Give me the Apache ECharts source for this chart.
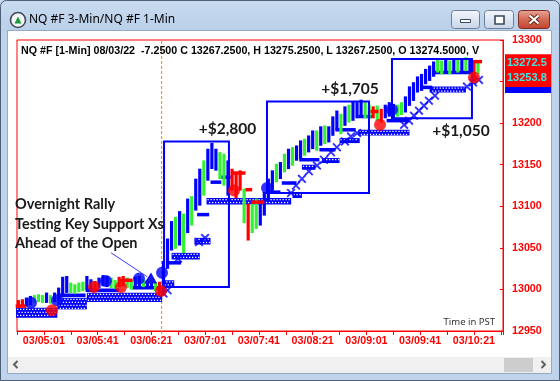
<!DOCTYPE html>
<html>
<head>
<meta charset="utf-8">
<script src="https://cdn.jsdelivr.net/npm/echarts@6.0.0/dist/echarts.min.js"></script>
<style>
html,body{margin:0;padding:0;background:#fff;overflow:hidden;}
#chart{width:560px;height:381px;}
</style>
</head>
<body>
<div id="chart"></div>
<script>
// ---------------- data (time = minutes after midnight - 1, price in points) ----------------
const xTickValues = [300, 340, 380, 420, 460, 500, 540, 580, 620];
const xTickLabels = ['03/05:01', '03/05:41', '03/06:21', '03/07:01', '03/07:41', '03/08:21', '03/09:01', '03/09:41', '03/10:21'];
const yTickValues = [12950, 13000, 13050, 13100, 13150, 13200, 13250, 13300];

const barStart = 281, barStep = 3;
const barHigh = [
  12986,12987,12989,12991,12992,12993,12992,12995,12992,12995,
  13001,13014,13015,13007,13005,13007,13008,13015,13011,13009,
  13013,13016,13015,13013,13010,13014,13015,13013,13010,13014,
  13015,13011,13010,13009,13008,13008,13033,13060,13081,13086,
  13093,13090,13108,13111,13132,13144,13154,13168,13175,13168,
  13164,13162,13154,13144,13138,13142,13120,13102,13102,13108,
  13102,13116,13132,13142,13150,13152,13162,13168,13170,13172,
  13178,13180,13184,13190,13190,13195,13196,13195,13207,13214,
  13210,13219,13221,13225,13224,13227,13224,13221,13219,13220,
  13216,13221,13224,13222,13221,13224,13231,13243,13248,13255,
  13258,13264,13268,13273,13276,13274,13276,13274,13276,13276,
  13276,13278,13276,13274,13273
];
const barLow = [
  12979,12980,12981,12982,12985,12986,12985,12985,12984,12986,
  12989,12992,12997,12997,12996,12998,12999,13001,13001,12999,
  13003,13005,13004,13003,13002,13004,13005,13003,13001,13004,
  13005,13004,13003,13002,12999,12996,12997,13026,13048,13050,
  13054,13045,13069,13078,13096,13102,13114,13132,13146,13144,
  13134,13126,13114,13120,13111,13120,13081,13060,13069,13074,
  13078,13090,13108,13120,13130,13134,13142,13146,13150,13156,
  13158,13162,13166,13170,13168,13174,13176,13178,13186,13192,
  13188,13198,13202,13204,13207,13210,13207,13207,13207,13204,
  13202,13207,13209,13207,13209,13211,13214,13222,13228,13238,
  13240,13248,13252,13257,13262,13260,13262,13260,13263,13262,
  13264,13264,13262,13252,13260
];
// paint-bar state per bar: b = blue, g = green, r = red
const barState = 'rrbbgggbgb' + 'bbbggggbbr' + 'bbbggrrggb' + 'bgbbgrbbbg' + 'bgbgbbgbbb' +
                 'ggbrrrgrgg' + 'bbbbgbgbgb' + 'bgbbgbgbbb' + 'gbgbbbggrg' + 'rbbbggbbbb' +
                 'bbbbggbgbg' + 'bgbrg';

// support "X" bands: [start, end, top price, bottom price]
const supportBands = [
  [279.3, 310, 12978, 12966], [310, 332, 12990, 12976], [332, 388, 12996, 12985],
  [388, 397, 13011, 13003], [395, 416, 13044, 13036], [412, 424, 13062, 13054],
  [421, 484, 13110, 13102], [485, 492, 13116, 13110], [492, 502, 13150, 13144],
  [507, 520, 13158, 13152], [520, 535, 13182, 13176], [534, 572, 13192, 13185],
  [587, 614, 13244, 13237]
];
// single X markers
const xMarkTime  = [389, 392, 399.8, 415.4, 419.9, 483.9, 487.6, 492, 497.2, 503.2, 508.4, 513.6, 518, 524, 528.5, 533,
                    568, 571.7, 575.4, 579.1, 582.8, 586.5, 591, 614.8, 619.3, 623.7];
const xMarkPrice = [12995, 12999, 13037, 13057, 13062, 13116, 13125, 13133, 13142, 13149, 13156, 13165, 13171, 13178, 13184, 13188,
                    13198, 13203, 13209, 13215, 13221, 13227, 13233, 13244, 13249, 13252];
// blue step line segments: [start, end, price]
const blueSteps = [
  [311, 331, 12993], [331, 356, 12999], [366, 386, 13002], [393, 402, 13032], [414, 423, 13090],
  [424, 432, 13129], [432, 439, 13135], [466, 476, 13117], [477, 488, 13128], [490, 505, 13156],
  [505, 517, 13168], [517, 532, 13192], [534, 544, 13208], [555, 572, 13203], [581, 589, 13243],
  [589, 619, 13261]
];
// red dashes: [start, end, price]
const redDashes = [
  [279, 287, 12980], [356, 366, 13011], [440, 450, 13140], [450, 455, 13120],
  [454, 464, 13105], [543, 549, 13214], [618, 626, 13274]
];
const blueDotTime  = [290.4, 309.8, 346.2, 370.8, 387.9, 466, 559];
const blueDotPrice = [12984, 12987, 13010, 13013, 13020, 13122, 13216];
const redDotTime   = [306, 337.3, 357.4, 387.1, 441.5, 550.1, 620];
const redDotPrice  = [12975, 13003, 13003, 12998, 13119, 13198, 13255];

// trade boxes: [start, end, top, bottom]
const tradeBoxes = [[389.4, 437.7, 13178, 13003], [466, 541.9, 13226, 13116], [559, 618.5, 13277, 13206]];
const profitTime  = [436.6, 527.8, 610.3];
const profitPrice = [13193, 13241, 13190];
const profitText  = ['+$2,800', '+$1,705', '+$1,050'];

const arrowFrom = [350, 13044];
const arrowTo   = [379, 13013];
const openTime  = 387.3;

const redTagValues  = [13272.5, 13253.8];
const blueTagValues = [13246.4];

const headerText = 'NQ #F [1-Min] 08/03/22  -7.2500 C 13267.2500, H 13275.2500, L 13267.2500, O 13274.5000, V';
const captionLines = ['Overnight Rally', 'Testing Key Support Xs', 'Ahead of the Open'];

// ---------------- rendering ----------------
const BLUE = '#0000ff', GREEN = '#33f033', RED = '#ff0000', ORANGE = '#ff9a00';
const STATE_COLOR = { b: BLUE, g: GREEN, r: RED };
const FRAME = '#bfd4ec';
const X_PATH = 'path://M0,1.5L1.5,0L5,3.5L8.5,0L10,1.5L6.5,5L10,8.5L8.5,10L5,6.5L1.5,10L0,8.5L3.5,5Z';

const barData = barHigh.map((h, i) => [barStart + i * barStep, barLow[i], h]);

function renderBar(params, api) {
  const t = api.value(0);
  const lo = api.coord([t, api.value(1)]);
  const hi = api.coord([t, api.value(2)]);
  return { type: 'line', shape: { x1: lo[0], y1: lo[1] + 1, x2: hi[0], y2: hi[1] - 1 },
           style: { stroke: STATE_COLOR[barState[params.dataIndex]], lineWidth: 3.2 } };
}
function renderBand(params, api) {
  const p1 = api.coord([api.value(0), api.value(2)]);
  const p2 = api.coord([api.value(1), api.value(3)]);
  const x = p1[0], y = p1[1], w = p2[0] - p1[0], h = p2[1] - p1[1];
  const children = [{ type: 'rect', shape: { x, y, width: w, height: h }, style: { fill: BLUE } }];
  let row = 0;
  for (let yy = y + 1.6; yy < y + h - 0.8; yy += 3, row++) {
    for (let xx = x + 1.6 + (row % 2) * 1.5; xx < x + w - 0.8; xx += 3) {
      children.push({ type: 'rect', shape: { x: xx - 0.65, y: yy - 0.65, width: 1.3, height: 1.3 }, style: { fill: '#ffffff' } });
    }
  }
  return { type: 'group', children };
}
function segRenderer(color, width) {
  return function (params, api) {
    const a = api.coord([api.value(0), api.value(2)]);
    const b = api.coord([api.value(1), api.value(2)]);
    return { type: 'line', shape: { x1: a[0], y1: a[1], x2: b[0], y2: b[1] }, style: { stroke: color, lineWidth: width } };
  };
}
function renderBox(params, api) {
  const a = api.coord([api.value(0), api.value(2)]);
  const b = api.coord([api.value(1), api.value(3)]);
  return { type: 'rect', shape: { x: a[0], y: a[1], width: b[0] - a[0], height: b[1] - a[1] },
           style: { fill: 'none', stroke: BLUE, lineWidth: 2 } };
}
function renderProfit(params, api) {
  const p = api.coord([api.value(0), api.value(1)]);
  return { type: 'text', x: p[0], y: p[1],
           style: { text: profitText[params.dataIndex], font: 'bold 15.5px Lato', fill: '#1a1a1a', align: 'center', verticalAlign: 'middle' } };
}
function renderArrow(params, api) {
  const a = api.coord([api.value(0), api.value(1)]);
  const b = api.coord([api.value(2), api.value(3)]);
  return { type: 'group', children: [
    { type: 'line', shape: { x1: a[0], y1: a[1], x2: b[0] - 3, y2: b[1] - 2 }, style: { stroke: '#3a3aff', lineWidth: 1 } },
    { type: 'polygon', shape: { points: [[b[0] + 1, b[1] - 6], [b[0] - 6, b[1] + 5], [b[0] + 7, b[1] + 5]] }, style: { fill: '#1414e6' } }
  ] };
}
function renderOpenLine(params, api) {
  const top = api.coord([api.value(0), yTickValues[yTickValues.length - 1]]);
  const bot = api.coord([api.value(0), yTickValues[0]]);
  const x = Math.round(top[0]);
  return { type: 'rect', shape: { x: x, y: top[1], width: 1, height: bot[1] - top[1] + 3 },
           style: { fill: 'none', stroke: null },
           children: [] ,
           // drawn as a dashed line below
           textContent: null,
           ignore: true };
}
function renderOpenDash(params, api) {
  const top = api.coord([api.value(0), yTickValues[yTickValues.length - 1]]);
  const bot = api.coord([api.value(0), yTickValues[0]]);
  const x = Math.round(top[0]);
  const children = [];
  for (let y = top[1] + 1; y < bot[1] + 3; y += 5) {
    children.push({ type: 'rect', shape: { x: x, y: y, width: 1.2, height: 3 }, style: { fill: ORANGE } });
  }
  return { type: 'group', children };
}
function tagRenderer(fill, withText) {
  return function (params, api) {
    const v = api.value(0);
    const y = api.coord([300, v])[1];
    const x = params.coordSys.x + params.coordSys.width + 2;
    const children = [{ type: 'rect', shape: { x, y: y - 8.5, width: 50, height: 17 }, style: { fill } }];
    if (withText) children.push({ type: 'text', x: x + 2, y: y, style: { text: v.toFixed(1), font: 'bold 11px "Liberation Sans"', fill: '#3ee6e6', verticalAlign: 'middle' } });
    return { type: 'group', children };
  };
}

const chart = echarts.init(document.getElementById('chart'), null, { renderer: 'canvas' });
const labelFont = { color: RED, fontWeight: 'bold', fontSize: 10.7, fontFamily: '"Liberation Sans", Arial' };

const option = {
  animation: false,
  backgroundColor: '#ffffff',
  grid: { left: 17, right: 57, top: 40, bottom: 50, show: true, borderColor: RED, borderWidth: 1, backgroundColor: '#ffffff' },
  xAxis: {
    type: 'value', min: 280, max: 641.6, interval: 20,
    axisLine: { show: true, lineStyle: { color: RED } },
    axisTick: { show: true, length: 4, lineStyle: { color: RED } },
    splitLine: { show: false },
    axisLabel: Object.assign({ margin: 5, showMinLabel: true, showMaxLabel: true,
      formatter: v => { const k = xTickValues.indexOf(Math.round(v)); return k >= 0 ? xTickLabels[k] : ''; } }, labelFont)
  },
  yAxis: {
    type: 'value', position: 'right', min: yTickValues[0], max: yTickValues[yTickValues.length - 1], interval: 50,
    axisLine: { show: true, lineStyle: { color: RED } },
    axisTick: { show: true, inside: true, length: 3, lineStyle: { color: RED } },
    splitLine: { show: false },
    axisLabel: Object.assign({ margin: 9, showMinLabel: true, showMaxLabel: true, formatter: v => String(Math.round(v)) }, labelFont)
  },
  series: [
    { type: 'custom', name: 'openLine', data: [[openTime]], renderItem: renderOpenDash, encode: { x: 0 }, silent: true, clip: false },
    { type: 'custom', name: 'bands', data: supportBands, renderItem: renderBand, encode: { x: [0, 1], y: [2, 3] }, silent: true },
    { type: 'scatter', name: 'xmarks', data: xMarkTime.map((t, i) => [t, xMarkPrice[i]]), symbol: X_PATH, symbolSize: 9,
      itemStyle: { color: BLUE }, silent: true },
    { type: 'custom', name: 'steps', data: blueSteps, renderItem: segRenderer(BLUE, 3.5), encode: { x: [0, 1], y: 2 }, silent: true },
    { type: 'custom', name: 'bars', data: barData, renderItem: renderBar, encode: { x: 0, y: [1, 2] }, silent: true },
    { type: 'custom', name: 'redDashes', data: redDashes, renderItem: segRenderer(RED, 3.5), encode: { x: [0, 1], y: 2 }, silent: true },
    { type: 'scatter', name: 'blueDots', data: blueDotTime.map((t, i) => [t, blueDotPrice[i]]), symbolSize: 12,
      itemStyle: { color: BLUE }, silent: true },
    { type: 'scatter', name: 'redDots', data: redDotTime.map((t, i) => [t, redDotPrice[i]]), symbolSize: 12,
      itemStyle: { color: RED }, silent: true },
    { type: 'custom', name: 'boxes', data: tradeBoxes, renderItem: renderBox, encode: { x: [0, 1], y: [2, 3] }, silent: true },
    { type: 'custom', name: 'arrow', data: [[arrowFrom[0], arrowFrom[1], arrowTo[0], arrowTo[1]]], renderItem: renderArrow,
      encode: { x: [0, 2], y: [1, 3] }, silent: true, clip: false },
    { type: 'custom', name: 'profits', data: profitTime.map((t, i) => [t, profitPrice[i]]), renderItem: renderProfit,
      encode: { x: 0, y: 1 }, silent: true, clip: false },
    { type: 'custom', name: 'blueTags', data: blueTagValues.map(v => [v]), renderItem: tagRenderer(BLUE, false),
      encode: { y: 0 }, silent: true, clip: false, z: 5 },
    { type: 'custom', name: 'redTags', data: redTagValues.map(v => [v]), renderItem: tagRenderer(RED, true),
      encode: { y: 0 }, silent: true, clip: false, z: 6 }
  ],
  graphic: { elements: [
    // window frame
    { type: 'rect', z: 100, shape: { x: 0, y: 0, width: 560, height: 31 },
      style: { fill: new echarts.graphic.LinearGradient(0, 0, 0, 1, [{ offset: 0, color: '#c8dbf0' }, { offset: 1, color: '#bad0e9' }]) } },
    { type: 'rect', z: 100, shape: { x: 0, y: 31, width: 8, height: 350 }, style: { fill: FRAME } },
    { type: 'rect', z: 100, shape: { x: 551, y: 31, width: 9, height: 350 }, style: { fill: FRAME } },
    { type: 'rect', z: 100, shape: { x: 0, y: 373, width: 560, height: 8 }, style: { fill: FRAME } },
    { type: 'rect', z: 100, shape: { x: 8, y: 357, width: 543, height: 16 }, style: { fill: '#f0f0f0' } },
    { type: 'rect', z: 101, shape: { x: 504, y: 358, width: 29, height: 14 }, style: { fill: '#cdcdcd' } },
    { type: 'polyline', z: 101, shape: { points: [[17.5, 361], [14, 364.5], [17.5, 368]] }, style: { stroke: '#606060', lineWidth: 2, fill: null } },
    { type: 'polyline', z: 101, shape: { points: [[541.5, 361], [545, 364.5], [541.5, 368]] }, style: { stroke: '#606060', lineWidth: 2, fill: null } },
    { type: 'rect', z: 101, shape: { x: 7.5, y: 30.5, width: 544, height: 343 }, style: { fill: null, stroke: '#95aac2', lineWidth: 1 } },
    { type: 'rect', z: 101, shape: { x: 0.5, y: 0.5, width: 559, height: 380, r: [6, 6, 0, 0] }, style: { fill: null, stroke: '#4d6078', lineWidth: 1 } },
    // icon + title
    { type: 'circle', z: 101, shape: { cx: 18, cy: 20, r: 7.5 }, style: { fill: '#f2f4f6', stroke: '#3f4b59', lineWidth: 1.6 } },
    { type: 'polygon', z: 102, shape: { points: [[14.5, 23.5], [21.5, 23.5], [18, 16.5]] }, style: { fill: '#1f9a3a' } },
    { type: 'text', z: 101, x: 29, y: 20, style: { text: 'NQ #F 3-Min/NQ #F 1-Min', font: '12px "Noto Sans"', fill: '#000', verticalAlign: 'middle' } },
    // caption buttons
    { type: 'rect', z: 101, shape: { x: 451.5, y: 10.5, width: 28, height: 18, r: 3 },
      style: { fill: new echarts.graphic.LinearGradient(0, 0, 0, 1, [{ offset: 0, color: '#f4f7fb' }, { offset: 1, color: '#c6d5e7' }]), stroke: '#6d7f96', lineWidth: 1 } },
    { type: 'rect', z: 102, shape: { x: 460.5, y: 19.5, width: 10, height: 3 }, style: { fill: '#ffffff', stroke: '#39475a', lineWidth: 1 } },
    { type: 'rect', z: 101, shape: { x: 484.5, y: 10.5, width: 29, height: 18, r: 3 },
      style: { fill: new echarts.graphic.LinearGradient(0, 0, 0, 1, [{ offset: 0, color: '#f4f7fb' }, { offset: 1, color: '#c6d5e7' }]), stroke: '#6d7f96', lineWidth: 1 } },
    { type: 'rect', z: 102, shape: { x: 495, y: 16, width: 9, height: 8 }, style: { fill: '#ffffff', stroke: '#39475a', lineWidth: 1.6 } },
    { type: 'rect', z: 101, shape: { x: 518.5, y: 10.5, width: 31, height: 18, r: 3 },
      style: { fill: new echarts.graphic.LinearGradient(0, 0, 0, 1, [{ offset: 0, color: '#e9a898' }, { offset: 0.5, color: '#d46a55' }, { offset: 1, color: '#c0422c' }]), stroke: '#7d2d22', lineWidth: 1 } },
    { type: 'polyline', z: 102, shape: { points: [[529.5, 15.5], [538.5, 23.5]] }, style: { stroke: '#5a2018', lineWidth: 4 } },
    { type: 'polyline', z: 102, shape: { points: [[538.5, 15.5], [529.5, 23.5]] }, style: { stroke: '#5a2018', lineWidth: 4 } },
    { type: 'polyline', z: 103, shape: { points: [[529.5, 15.5], [538.5, 23.5]] }, style: { stroke: '#ffffff', lineWidth: 2.2 } },
    { type: 'polyline', z: 103, shape: { points: [[538.5, 15.5], [529.5, 23.5]] }, style: { stroke: '#ffffff', lineWidth: 2.2 } },
    // chart texts
    { type: 'text', z: 50, x: 21, y: 51, style: { text: headerText, font: 'bold 10.7px "Liberation Sans"', fill: '#000', verticalAlign: 'middle' } },
    { type: 'text', z: 50, x: 495, y: 322, style: { text: 'Time in PST', font: '9.5px "Noto Sans"', fill: '#333', align: 'right', verticalAlign: 'middle' } },
    { type: 'text', z: 50, x: 15, y: 204, style: { text: captionLines[0], font: 'bold 14.5px Lato', fill: '#1a1a1a', verticalAlign: 'middle' } },
    { type: 'text', z: 50, x: 15, y: 224, style: { text: captionLines[1], font: 'bold 14.5px Lato', fill: '#1a1a1a', verticalAlign: 'middle' } },
    { type: 'text', z: 50, x: 15, y: 243, style: { text: captionLines[2], font: 'bold 14.5px Lato', fill: '#1a1a1a', verticalAlign: 'middle' } }
  ] }
};
chart.setOption(option);
</script>
</body>
</html>
